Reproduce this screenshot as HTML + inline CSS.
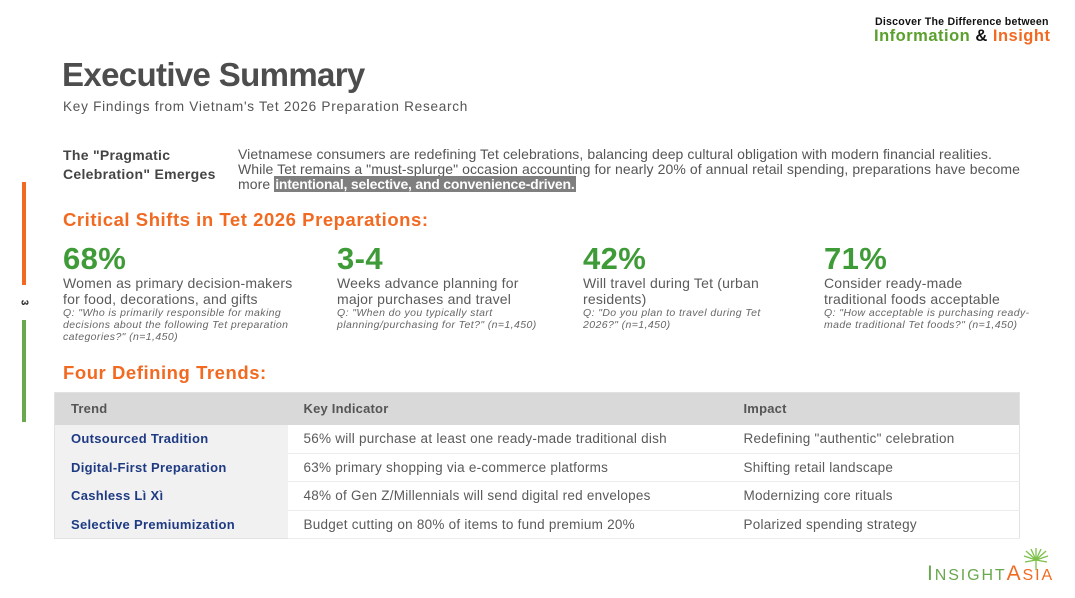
<!DOCTYPE html>
<html>
<head>
<meta charset="utf-8">
<style>
*{margin:0;padding:0;box-sizing:border-box;}
html,body{width:1075px;height:598px;background:#fff;overflow:hidden;}
body{position:relative;font-family:"Liberation Sans","DejaVu Sans",sans-serif;color:#555;}
.abs{position:absolute;white-space:nowrap;}
.title{left:62px;top:56px;font-size:33px;font-weight:bold;color:#4d4d4d;letter-spacing:-0.65px;}
.sub{left:63px;top:99px;font-size:13.6px;color:#555;letter-spacing:0.72px;}
.prag{left:63px;top:146px;font-size:14px;font-weight:bold;color:#444;line-height:19px;letter-spacing:0.3px;}
.para{left:238px;top:147px;font-size:14px;color:#555;line-height:15px;letter-spacing:0.08px;}
.hl{background:#7f7f7f;color:#fff;font-weight:bold;padding:0 1px;letter-spacing:-0.22px;}
.h2{font-size:18.5px;font-weight:bold;color:#f26a21;letter-spacing:0.55px;}
.big{font-size:31px;font-weight:bold;color:#3e9b37;letter-spacing:0.4px;line-height:34px;}
.desc{font-size:14px;color:#5a5a5a;line-height:15.5px;letter-spacing:0.2px;}
.q{font-size:10.5px;font-style:italic;color:#666;line-height:12px;letter-spacing:0.4px;}
.col{position:absolute;white-space:nowrap;}
table{position:absolute;left:54px;top:392px;width:966px;border-collapse:collapse;font-size:13.5px;letter-spacing:0.25px;border:1px solid #e2e2e2;}
th{background:#d9d9d9;color:#555;font-weight:bold;text-align:left;height:32px;padding-left:16px;font-size:13px;letter-spacing:0.2px;}
td{height:28.5px;padding-left:16px;color:#5a5a5a;border-bottom:1px solid #ececec;white-space:nowrap;}
td.t{background:#f1f1f1;color:#1e3a82;font-weight:bold;border-bottom:none;font-size:13px;letter-spacing:0.3px;}
</style>
</head>
<body>
<!-- top right -->
<div class="abs" style="left:875px;top:16px;font-size:10.6px;font-weight:bold;color:#111;letter-spacing:0.23px;">Discover The Difference between</div>
<div class="abs" style="left:874px;top:27px;font-size:16.5px;font-weight:bold;letter-spacing:0.5px;"><span style="color:#5aa02c">Information</span> <span style="color:#111">&amp;</span> <span style="color:#f26a21">Insight</span></div>

<!-- left bars -->
<div class="abs" style="left:22px;top:182px;width:4px;height:103px;background:#f26a21;"></div>
<div class="abs" style="left:21px;top:297px;font-size:10px;font-weight:bold;color:#222;transform:rotate(90deg);">3</div>
<div class="abs" style="left:22px;top:320px;width:4px;height:102px;background:#6aa84f;"></div>

<div class="abs title">Executive Summary</div>
<div class="abs sub">Key Findings from Vietnam's Tet 2026 Preparation Research</div>

<div class="abs prag">The "Pragmatic<br>Celebration" Emerges</div>
<div class="abs para">Vietnamese consumers are redefining Tet celebrations, balancing deep cultural obligation with modern financial realities.<br>While Tet remains a "must-splurge" occasion accounting for nearly 20% of annual retail spending, preparations have become<br>more <span class="hl">intentional, selective, and convenience-driven.</span></div>

<div class="abs h2" style="left:63px;top:209px;">Critical Shifts in Tet 2026 Preparations:</div>

<div class="col" style="left:63px;top:242px;">
<div class="big">68%</div>
<div class="desc">Women as primary decision-makers<br>for food, decorations, and gifts</div>
<div class="q">Q: "Who is primarily responsible for making<br>decisions about the following Tet preparation<br>categories?" (n=1,450)</div>
</div>
<div class="col" style="left:337px;top:242px;">
<div class="big">3-4</div>
<div class="desc">Weeks advance planning for<br>major purchases and travel</div>
<div class="q">Q: "When do you typically start<br>planning/purchasing for Tet?" (n=1,450)</div>
</div>
<div class="col" style="left:583px;top:242px;">
<div class="big">42%</div>
<div class="desc">Will travel during Tet (urban<br>residents)</div>
<div class="q">Q: "Do you plan to travel during Tet<br>2026?" (n=1,450)</div>
</div>
<div class="col" style="left:824px;top:242px;">
<div class="big">71%</div>
<div class="desc">Consider ready-made<br>traditional foods acceptable</div>
<div class="q">Q: "How acceptable is purchasing ready-<br>made traditional Tet foods?" (n=1,450)</div>
</div>

<div class="abs h2" style="left:63px;top:362px;">Four Defining Trends:</div>

<table>
<tr><th style="width:233px;">Trend</th><th style="width:440px;">Key Indicator</th><th>Impact</th></tr>
<tr><td class="t">Outsourced Tradition</td><td>56% will purchase at least one ready-made traditional dish</td><td>Redefining "authentic" celebration</td></tr>
<tr><td class="t">Digital-First Preparation</td><td>63% primary shopping via e-commerce platforms</td><td>Shifting retail landscape</td></tr>
<tr><td class="t">Cashless Lì Xì</td><td>48% of Gen Z/Millennials will send digital red envelopes</td><td>Modernizing core rituals</td></tr>
<tr><td class="t">Selective Premiumization</td><td>Budget cutting on 80% of items to fund premium 20%</td><td>Polarized spending strategy</td></tr>
</table>

<!-- logo -->
<svg class="abs" style="left:1021px;top:548px;" width="30" height="22" viewBox="0 0 30 22">
<g stroke="#7cc04a" stroke-width="1.3" fill="none">
<line x1="15" y1="12" x2="15" y2="22"/>
<line x1="15" y1="12" x2="3" y2="8"/>
<line x1="15" y1="12" x2="5" y2="3"/>
<line x1="15" y1="12" x2="10" y2="1"/>
<line x1="15" y1="12" x2="15" y2="0"/>
<line x1="15" y1="12" x2="20" y2="1"/>
<line x1="15" y1="12" x2="25" y2="3"/>
<line x1="15" y1="12" x2="27" y2="8"/>
<line x1="15" y1="12" x2="4" y2="14"/>
<line x1="15" y1="12" x2="26" y2="14"/>
</g>
</svg>
<div class="abs" style="left:927px;top:562px;font-family:'Liberation Sans',sans-serif;font-size:21px;letter-spacing:1.9px;">
<span style="color:#6aa84f">I<span style="font-size:16px">NSIGHT</span></span><span style="color:#f26a21">A<span style="font-size:16px">SIA</span></span>
</div>
</body>
</html>
